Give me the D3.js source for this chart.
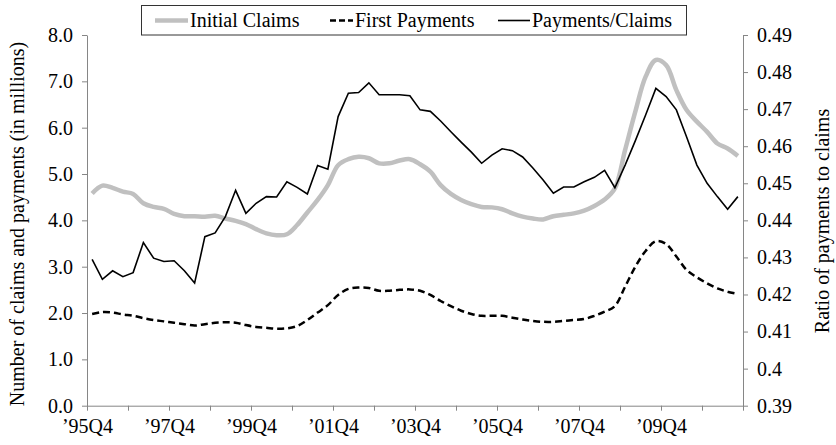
<!DOCTYPE html>
<html>
<head>
<meta charset="utf-8">
<script src="https://cdn.jsdelivr.net/npm/d3@7"></script>
<style>
  body { margin: 0; background: #fff; }
  svg text { font-family: "Liberation Serif", Tinos, "Times New Roman", Times, "Nimbus Roman", "Nimbus Roman No9 L", "Noto Serif", "DejaVu Serif", FreeSerif, serif; fill: #000; }
  .axis path, .axis line { stroke: #868686; }
</style>
</head>
<body>
<script>
var w = 836;
var h = 445;

// quarters '95Q4 .. '11Q3
var quarters = [];
for (var yr = 1995, q = 4; quarters.length < 64; q++) {
    if (q > 4) { q = 1; yr++; }
    quarters.push("'" + String(yr).slice(2) + "Q" + q);
}

var tickLabels = ["\u201995Q4", "\u201997Q4", "\u201999Q4", "\u201901Q4", "\u201903Q4", "\u201905Q4", "\u201907Q4", "\u201909Q4"];

// Initial claims (millions)
var initialClaims = [4.58, 4.75, 4.70, 4.62, 4.57, 4.37, 4.29, 4.25, 4.14, 4.09, 4.09, 4.08,
    4.10, 4.04, 3.99, 3.92, 3.81, 3.72, 3.68, 3.70, 3.90, 4.17, 4.44, 4.76,
    5.19, 5.32, 5.37, 5.34, 5.23, 5.23, 5.29, 5.32, 5.21, 5.05, 4.76, 4.57,
    4.44, 4.35, 4.29, 4.28, 4.24, 4.15, 4.08, 4.04, 4.02, 4.09, 4.12, 4.15,
    4.21, 4.31, 4.45, 4.69, 5.52, 6.35, 7.10, 7.46, 7.35, 6.81, 6.38, 6.13,
    5.91, 5.66, 5.55, 5.39];

// First payments (millions)
var firstPayments = [1.98, 2.02, 2.01, 1.97, 1.94, 1.89, 1.85, 1.82, 1.79, 1.76, 1.73, 1.76,
    1.79, 1.80, 1.79, 1.74, 1.70, 1.68, 1.66, 1.67, 1.72, 1.85, 2.01, 2.17,
    2.39, 2.52, 2.55, 2.54, 2.48, 2.48, 2.50, 2.51, 2.48, 2.39, 2.26, 2.15,
    2.05, 1.98, 1.94, 1.94, 1.94, 1.90, 1.86, 1.83, 1.81, 1.81, 1.83, 1.85,
    1.87, 1.94, 2.03, 2.15, 2.57, 3.00, 3.34, 3.55, 3.49, 3.22, 2.93, 2.77,
    2.64, 2.53, 2.46, 2.41];

// Ratio of payments to claims (right axis)
var ratio = [0.4295, 0.4241, 0.4264, 0.4248, 0.4259, 0.4340, 0.4298, 0.4289, 0.4291, 0.4264, 0.4231, 0.4356,
    0.4366, 0.4410, 0.4481, 0.4419, 0.4446, 0.4464, 0.4463, 0.4504, 0.4489, 0.4471, 0.4548, 0.4538,
    0.4680, 0.4743, 0.4745, 0.4771, 0.4739, 0.4739, 0.4739, 0.4736, 0.4698, 0.4694, 0.4668, 0.4639,
    0.4611, 0.4584, 0.4554, 0.4576, 0.4593, 0.4588, 0.4571, 0.4541, 0.4509, 0.4473, 0.4490, 0.4490,
    0.4504, 0.4516, 0.4535, 0.4488, 0.4549, 0.4615, 0.4684, 0.4756, 0.4734, 0.4698, 0.4625, 0.4549,
    0.4500, 0.4464, 0.4430, 0.4464];

var leftTicks = [0, 1, 2, 3, 4, 5, 6, 7, 8];
var rightTicks = [0.39, 0.40, 0.41, 0.42, 0.43, 0.44, 0.45, 0.46, 0.47, 0.48, 0.49];

var plotLeft = 87, plotRight = 743, plotTop = 35, plotBottom = 405.7;

var svg = d3.select("body")
    .append("svg")
    .attr("width", w)
    .attr("height", h);

// category axis, points sit between tick marks
var xScale = d3.scaleLinear()
    .domain([0, quarters.length])
    .range([plotLeft, plotRight]);

var yScale = d3.scaleLinear()
    .domain([0, 8])
    .range([plotBottom, plotTop]);

var yScale2 = d3.scaleLinear()
    .domain([0.39, 0.49])
    .range([plotBottom, plotTop]);

var xaxis = d3.axisBottom(xScale)
    .tickValues(d3.range(0, quarters.length + 1, 4))
    .tickSize(5)
    .tickSizeOuter(0)
    .tickPadding(8)
    .tickFormat(function (d) {
        return d % 8 === 0 && d < quarters.length ? tickLabels[d / 8] : "";
    });

var yaxis = d3.axisLeft(yScale)
    .tickValues(leftTicks)
    .tickSize(5)
    .tickSizeOuter(0)
    .tickPadding(9)
    .tickFormat(d3.format(".1f"));

var yaxis2 = d3.axisRight(yScale2)
    .tickValues(rightTicks)
    .tickSize(5)
    .tickSizeOuter(0)
    .tickPadding(9)
    .tickFormat(function (d) { return String(+d.toFixed(2)); });

svg.append("g")
    .attr("class", "axis")
    .attr("transform", "translate(0," + plotBottom + ")")
    .call(xaxis);

svg.append("g")
    .attr("class", "axis")
    .attr("transform", "translate(" + plotLeft + ",0)")
    .call(yaxis);

svg.append("g")
    .attr("class", "axis")
    .attr("transform", "translate(" + plotRight + ",0)")
    .call(yaxis2);

svg.selectAll(".axis").attr("font-family", null).attr("font-size", null);
svg.selectAll(".axis text").style("font-size", "20px");

// lines
var px = function (d, i) { return xScale(i + 0.5); };

var smoothLine = d3.line()
    .x(px)
    .y(function (d) { return yScale(d); })
    .curve(d3.curveCatmullRom.alpha(0.5));

var ratioLine = d3.line()
    .x(px)
    .y(function (d) { return yScale2(d); });

svg.append("path")
    .datum(initialClaims)
    .attr("d", smoothLine)
    .attr("fill", "none")
    .attr("stroke", "#c0c0c0")
    .attr("stroke-width", 4.5);

svg.append("path")
    .datum(firstPayments)
    .attr("d", smoothLine)
    .attr("fill", "none")
    .attr("stroke", "#000")
    .attr("stroke-width", 2.5)
    .attr("stroke-dasharray", "7,4");

svg.append("path")
    .datum(ratio)
    .attr("d", ratioLine)
    .attr("fill", "none")
    .attr("stroke", "#000")
    .attr("stroke-width", 1.6);

// axis titles
svg.append("text")
    .attr("transform", "translate(24,224) rotate(-90)")
    .attr("text-anchor", "middle")
    .style("font-size", "20px")
    .text("Number of claims and payments (in millions)");

svg.append("text")
    .attr("transform", "translate(829,221) rotate(-90)")
    .attr("text-anchor", "middle")
    .style("font-size", "20px")
    .text("Ratio of payments to claims");

// legend
var legend = svg.append("g");

legend.append("rect")
    .attr("x", 141.5)
    .attr("y", 5.5)
    .attr("width", 545)
    .attr("height", 29.5)
    .attr("fill", "#fff")
    .attr("stroke", "#333")
    .attr("stroke-width", 1);

var items = [
    { name: "Initial Claims", x1: 155, x2: 188, color: "#c0c0c0", width: 4.5, dash: null },
    { name: "First Payments", x1: 330, x2: 353, color: "#000", width: 2.5, dash: "6,3" },
    { name: "Payments/Claims", x1: 498, x2: 530, color: "#000", width: 1.6, dash: null }
];

items.forEach(function (d) {
    legend.append("line")
        .attr("x1", d.x1)
        .attr("x2", d.x2)
        .attr("y1", 20.5)
        .attr("y2", 20.5)
        .attr("stroke", d.color)
        .attr("stroke-width", d.width)
        .attr("stroke-dasharray", d.dash);
    legend.append("text")
        .attr("x", d.x2 + 2)
        .attr("y", 27)
        .style("font-size", "20px")
        .text(d.name);
});
</script>
</body>
</html>
